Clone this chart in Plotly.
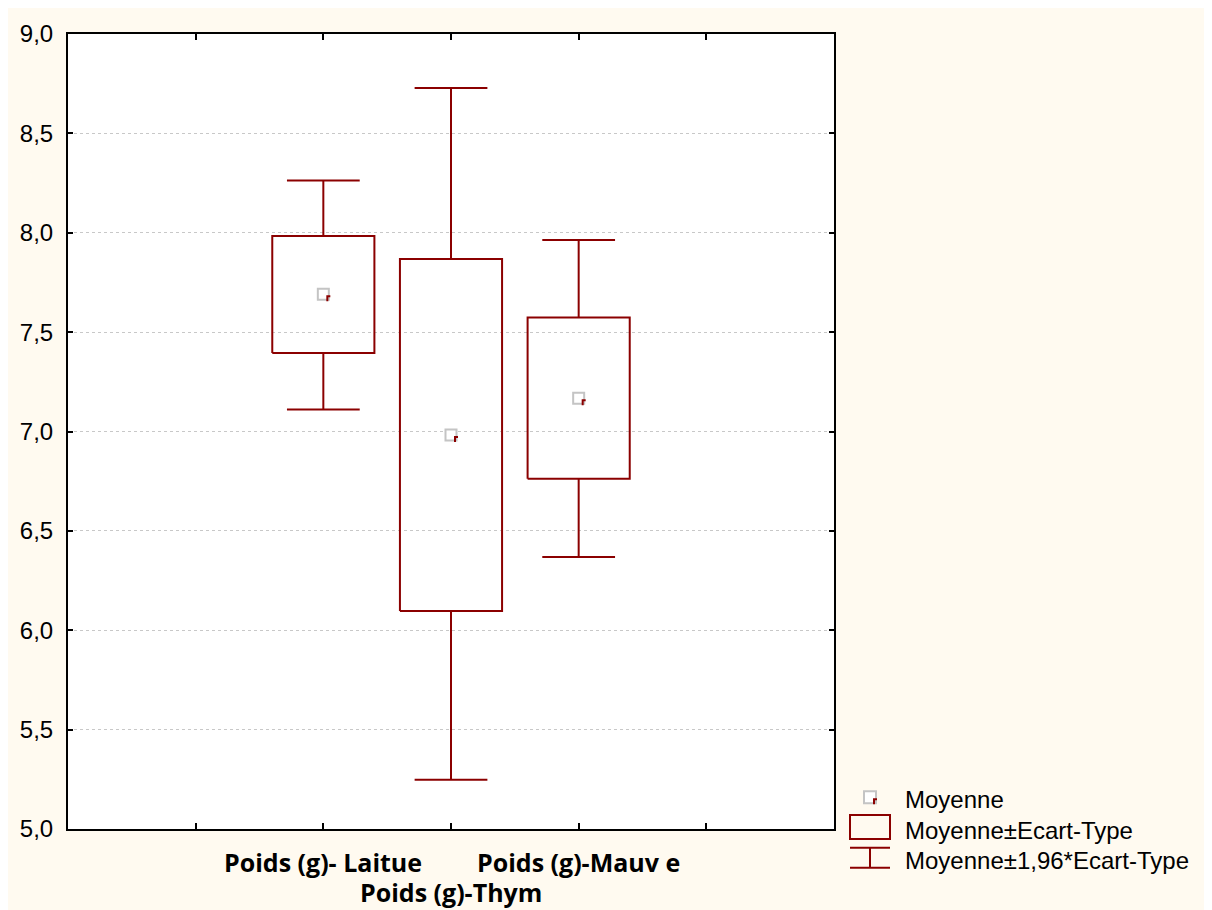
import plotly.graph_objects as go

# ---- data ----
categories = ["Poids (g)- Laitue", "Poids (g)-Thym", "Poids (g)-Mauv e"]
positions = [1, 2, 3]
means = [7.690, 6.983, 7.167]
box_low = [7.395, 6.097, 6.762]
box_high = [7.984, 7.868, 7.574]
whisk_low = [7.111, 5.248, 6.368]
whisk_high = [8.263, 8.728, 7.963]
x_tick_positions = [0, 1, 2, 3, 4]
y_tick_values = [5.0, 5.5, 6.0, 6.5, 7.0, 7.5, 8.0, 8.5, 9.0]
legend_labels = ["Moyenne", "Moyenne±Ecart-Type", "Moyenne±1,96*Ecart-Type"]

# ---- styling ----
OFF = 8                      # page body margin
W, H = 1204, 902
PL, PR, PT, PB = 68, 834, 27, 829   # plot area edges in page pixels
ML, MT = PL - OFF, PT - OFF
MR, MB = W - (PR - OFF), H - (PB - OFF)
PW, PH = PR - PL, PB - PT
RED = "#8B0000"
GREY = "#c4c4c4"
BG = "#FFFAF0"
FONT = "Liberation Sans, Arial, sans-serif"
BOX_HALF = 0.40
CAP_HALF = 0.285

def px2paper_x(px):
    return (px - PL) / PW

def px2paper_y(py):
    return (PB - py) / PH

fig = go.Figure()

# boxes and whiskers
bx, by = [], []
wx, wy = [], []
for p, bl, bh, wl, wh in zip(positions, box_low, box_high, whisk_low, whisk_high):
    bx += [p - BOX_HALF, p + BOX_HALF, p + BOX_HALF, p - BOX_HALF, p - BOX_HALF, None]
    by += [bl, bl, bh, bh, bl, None]
    wx += [p, p, None, p - CAP_HALF, p + CAP_HALF, None,
           p, p, None, p - CAP_HALF, p + CAP_HALF, None]
    wy += [bh, wh, None, wh, wh, None,
           bl, wl, None, wl, wl, None]

fig.add_trace(go.Scatter(x=wx, y=wy, mode="lines", line=dict(color=RED, width=2),
                         hoverinfo="skip", showlegend=False))
fig.add_trace(go.Scatter(x=bx, y=by, mode="lines", line=dict(color=RED, width=2),
                         hoverinfo="skip", showlegend=False))
fig.add_trace(go.Scatter(x=positions, y=means, mode="markers",
                         marker=dict(symbol="square", size=11, color="white",
                                     line=dict(color=GREY, width=2)),
                         showlegend=False))

corner_path = "M 3,-1 L 7,-1 L 7,-3 L 5,-3 L 5,-7 L 3,-7 Z"
shapes = []
for p, m in zip(positions, means):
    shapes.append(dict(type="path", xref="x", yref="y", xsizemode="pixel", ysizemode="pixel",
                       xanchor=p, yanchor=m, path=corner_path,
                       fillcolor=RED, line=dict(width=0)))

# ---- custom legend ----
lx_sym = px2paper_x(870)
shapes.append(dict(type="rect", xref="paper", yref="paper", xsizemode="pixel", ysizemode="pixel",
                   xanchor=lx_sym, yanchor=px2paper_y(797), x0=-6, x1=6, y0=-6, y1=6,
                   line=dict(color=GREY, width=2), fillcolor="white", layer="above"))
shapes.append(dict(type="path", xref="paper", yref="paper", xsizemode="pixel", ysizemode="pixel",
                   xanchor=lx_sym, yanchor=px2paper_y(797), path=corner_path,
                   fillcolor=RED, line=dict(width=0), layer="above"))
shapes.append(dict(type="rect", xref="paper", yref="paper",
                   x0=px2paper_x(850), x1=px2paper_x(890), y0=px2paper_y(815), y1=px2paper_y(839),
                   line=dict(color=RED, width=2), layer="above"))
for yy in (848, 868):
    shapes.append(dict(type="line", xref="paper", yref="paper",
                       x0=px2paper_x(850), x1=px2paper_x(890), y0=px2paper_y(yy), y1=px2paper_y(yy),
                       line=dict(color=RED, width=2), layer="above"))
shapes.append(dict(type="line", xref="paper", yref="paper",
                   x0=lx_sym, x1=lx_sym, y0=px2paper_y(848), y1=px2paper_y(868),
                   line=dict(color=RED, width=2), layer="above"))

annotations = []
for i, lab in enumerate(legend_labels):
    annotations.append(dict(text=lab, xref="paper", yref="paper", x=px2paper_x(903),
                            y=px2paper_y([799, 831, 861][i]), xanchor="left", yanchor="middle",
                            showarrow=False, font=dict(family=FONT, size=24, color="black")))

# category labels, staggered on two rows
for i, (p, lab) in enumerate(zip(positions, categories)):
    annotations.append(dict(text="<b>" + lab + "</b>", xref="x", yref="paper", x=p, y=0,
                            xanchor="center", yanchor="middle",
                            yshift=-33 if i % 2 == 0 else -63, showarrow=False,
                            font=dict(family="Open Sans, sans-serif", size=25, color="black")))

fig.update_layout(
    width=W, height=H,
    margin=dict(l=ML, r=MR, t=MT, b=MB),
    paper_bgcolor=BG, plot_bgcolor="white",
    separators=", ",
    shapes=shapes, annotations=annotations,
    showlegend=False,
    xaxis=dict(range=[-1, 5], tickvals=x_tick_positions, showticklabels=False,
               ticks="inside", ticklen=6, tickcolor="black", tickwidth=1.5,
               showgrid=False, zeroline=False, showline=True, linecolor="black",
               linewidth=2, mirror="ticks"),
    yaxis=dict(range=[5, 9], tickvals=y_tick_values, tickformat=".1f",
               ticks="inside", ticklen=5, tickcolor="black", tickwidth=1.5,
               showgrid=True, gridcolor="#c8c8c8", griddash="dot", gridwidth=1,
               zeroline=False, showline=True, linecolor="black", linewidth=2,
               mirror="ticks", ticklabelstandoff=8,
               tickfont=dict(family=FONT, size=24, color="black")),
)

fig.write_html("out.html")
